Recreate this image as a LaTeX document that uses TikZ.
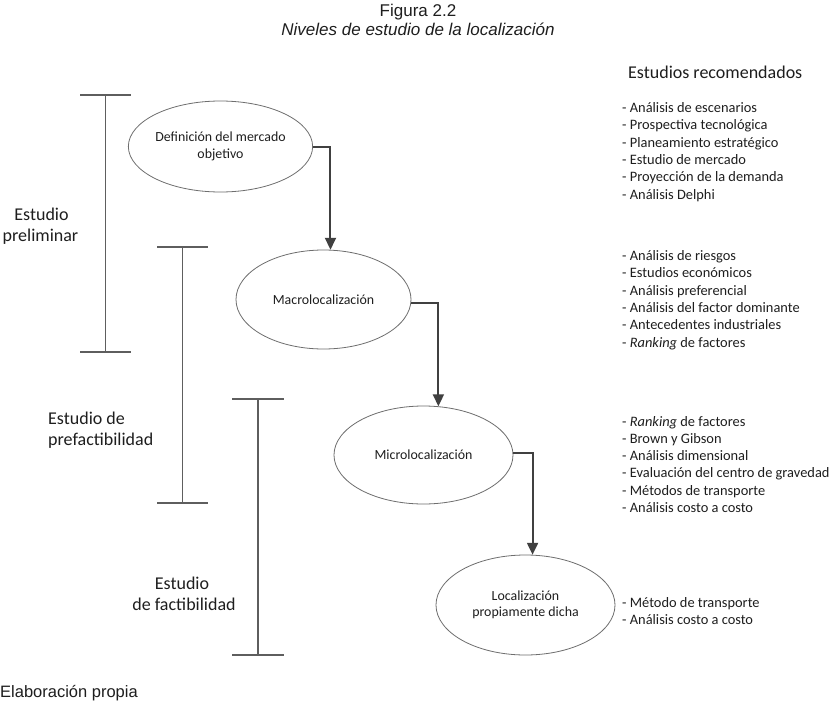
\documentclass[tikz,border=0pt]{standalone}
\usepackage{fontspec}
\setmainfont{Carlito}
\newfontfamily\arialf{Liberation Sans}
\usetikzlibrary{arrows.meta,shapes.geometric}
\definecolor{txt}{HTML}{1E1E1E}
\definecolor{linegray}{HTML}{5E5E5E}
\definecolor{ellgray}{HTML}{6E6E6E}
\definecolor{arrgray}{HTML}{404040}
\tikzset{
  ell/.style={ellipse, draw=ellgray, line width=0.8pt, inner sep=0pt, align=center,
    text=txt, font=\fontsize{13.9}{16.5}\selectfont},
  flow/.style={draw=arrgray, line width=2pt, -{Triangle[width=11pt,length=12pt]}},
  brk/.style={draw=linegray, line width=1.1pt},
  item/.style={anchor=base west, inner sep=0pt, text=txt, font=\fontsize{14.4}{17}\selectfont},
  head/.style={anchor=base west, inner sep=0pt, text=txt, font=\fontsize{18}{21}\selectfont},
  lab/.style={inner sep=0pt, text=txt, font=\fontsize{18}{21}\selectfont},
  arialtxt/.style={inner sep=0pt, text=txt, font=\arialf\fontsize{17}{20}\selectfont}
}
\begin{document}
\begin{tikzpicture}[x=1pt,y=-1pt]
\useasboundingbox[fill=white] (0,0) rectangle (830,701);

% title
\node[arialtxt, anchor=base] (t1) at (418,16.5) {Figura 2.2};
\node[arialtxt, anchor=base] (t2) at (418,36) {\itshape Niveles de estudio de la localización};

% ellipses
\node[ell, minimum width=179pt, minimum height=91pt] (e1) at (220.5,146.5) {Definición del mercado\\objetivo};
\node[ell, minimum width=175pt, minimum height=99pt] (e2) at (323.5,299.5) {Macrolocalización};
\node[ell, minimum width=179pt, minimum height=98pt] (e3) at (423.5,455) {Microlocalización};
\node[ell, minimum width=179pt, minimum height=100pt] (e4) at (525.5,605) {Localización\\propiamente dicha};

% arrows
\draw[flow] (e1.east) -| (e2.82.5);
\draw[flow] (e2.-2.95) -| (e3.73.3);
\draw[flow] (e3.1.3) -| (e4.82.6);

% brackets
\draw[brk] (80,95) -- (131,95) (105.5,95) -- (105.5,352) (80,352) -- (131,352);
\draw[brk] (157,247) -- (208,247) (182.5,247) -- (182.5,503) (157,503) -- (208,503);
\draw[brk] (232,399) -- (284,399) (258,399) -- (258,655) (232,655) -- (284,655);

% left labels
\node[lab, anchor=base] (p1) at (41.5,220) {Estudio};
\node[lab, anchor=base] (p2) at (40.5,241) {preliminar};
\node[lab, anchor=base west] (f1) at (48,424) {Estudio de};
\node[lab, anchor=base west] (f2) at (48,445) {prefactibilidad};
\node[lab, anchor=base] (g1) at (182,589) {Estudio};
\node[lab, anchor=base] (g2) at (184,610) {de factibilidad};

% right lists
\node[head] (h) at (628,78) {Estudios recomendados};

\node[item] (a1) at (622,112.5) {- Análisis de escenarios};
\node[item] (a2) at (622,129.8) {- Prospectiva tecnológica};
\node[item] (a3) at (622,147.1) {- Planeamiento estratégico};
\node[item] (a4) at (622,164.4) {- Estudio de mercado};
\node[item] (a5) at (622,181.7) {- Proyección de la demanda};
\node[item] (a6) at (622,199.0) {- Análisis Delphi};

\node[item] (b1) at (622,260.5) {- Análisis de riesgos};
\node[item] (b2) at (622,277.8) {- Estudios económicos};
\node[item] (b3) at (622,295.1) {- Análisis preferencial};
\node[item] (b4) at (622,312.4) {- Análisis del factor dominante};
\node[item] (b5) at (622,329.7) {- Antecedentes industriales};
\node[item] (b6) at (622,347.0) {- \textit{Ranking} de factores};

\node[item] (c1) at (622,426) {- \textit{Ranking} de factores};
\node[item] (c2) at (622,443.3) {- Brown y Gibson};
\node[item] (c3) at (622,460.6) {- Análisis dimensional};
\node[item] (c4) at (622,477.9) {- Evaluación del centro de gravedad};
\node[item] (c5) at (622,495.2) {- Métodos de transporte};
\node[item] (c6) at (622,512.5) {- Análisis costo a costo};

\node[item] (d1) at (622,607.5) {- Método de transporte};
\node[item] (d2) at (622,624.8) {- Análisis costo a costo};

% footer
\node[inner sep=0pt, text=txt, font=\arialf\fontsize{16.5}{19}\selectfont, anchor=base west] (foot) at (0,697) {Elaboración propia};
\end{tikzpicture}
\end{document}
